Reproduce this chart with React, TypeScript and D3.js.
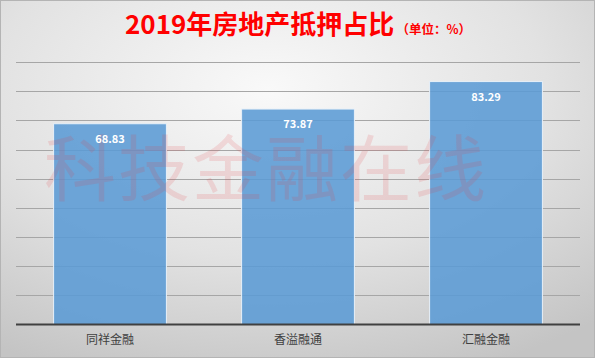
import React from "react";
import * as d3 from "d3";

const categories = ["同祥金融", "香溢融通", "汇融金融"];
const values = [68.83, 73.87, 83.29];
const yTicks = [10, 20, 30, 40, 50, 60, 70, 80, 90];

const W = 595;
const H = 358;

export default function App() {
  const x = d3
    .scaleBand<string>()
    .domain(categories)
    .range([16, 580])
    .paddingInner(0.4)
    .paddingOuter(0.2);
  const y = d3.scaleLinear().domain([0, 90]).range([324.5, 62]);
  const font = "'Noto Sans CJK SC', 'Noto Sans', sans-serif";

  return (
    <svg
      width={W}
      height={H}
      style={{ position: "absolute", left: 0, top: 0 }}
      xmlns="http://www.w3.org/2000/svg"
    >
      <defs>
        <radialGradient id="bg" cx="45%" cy="25%" r="85%">
          <stop offset="0%" stopColor="#f9f9f9" />
          <stop offset="55%" stopColor="#e2e2e2" />
          <stop offset="100%" stopColor="#c4c4c4" />
        </radialGradient>
      </defs>
      <rect x={0} y={0} width={W} height={H} fill="url(#bg)" />
      <rect x={0.5} y={0.5} width={W - 1} height={H - 1} fill="none" stroke="#b4b4b4" strokeWidth={1} />

      {yTicks.map((t) => (
        <line
          key={t}
          x1={16}
          x2={580}
          y1={Math.round(y(t)) + 0.5}
          y2={Math.round(y(t)) + 0.5}
          stroke="#a6a6a6"
          strokeWidth={1}
        />
      ))}

      {categories.map((c, i) => (
        <rect
          key={c}
          x={x(c)}
          y={y(values[i])}
          width={x.bandwidth()}
          height={y(0) - y(values[i])}
          fill="#5b9bd5"
          fillOpacity={0.88}
          stroke="#e8f0f8"
          strokeWidth={1}
        />
      ))}

      <text
        x={266}
        y={163}
        textAnchor="middle"
        dominantBaseline="central"
        fontFamily={font}
        fontSize={72}
        fontWeight={400}
        fill="rgba(225,60,70,0.15)"
        letterSpacing={2}
      >
        科技金融在线
      </text>

      <line x1={16} x2={580} y1={y(0)} y2={y(0)} stroke="#404040" strokeWidth={2} />

      {categories.map((c, i) => (
        <text
          key={c + "v"}
          x={(x(c) as number) + x.bandwidth() / 2}
          y={y(values[i]) + 19}
          textAnchor="middle"
          fontFamily={font}
          fontSize={11}
          fontWeight={700}
          fill="#ffffff"
        >
          {values[i].toFixed(2)}
        </text>
      ))}

      {categories.map((c) => (
        <text
          key={c + "l"}
          x={(x(c) as number) + x.bandwidth() / 2}
          y={344}
          textAnchor="middle"
          fontFamily={font}
          fontSize={12}
          fill="#404040"
        >
          {c}
        </text>
      ))}

      <text x={125} y={34} fontFamily={font} fill="#ff0000" fontWeight={700}>
        <tspan fontSize={26}>2019年房地产抵押占比</tspan>
        <tspan fontSize={12.5} dx={2}>（单位：%）</tspan>
      </text>
    </svg>
  );
}
